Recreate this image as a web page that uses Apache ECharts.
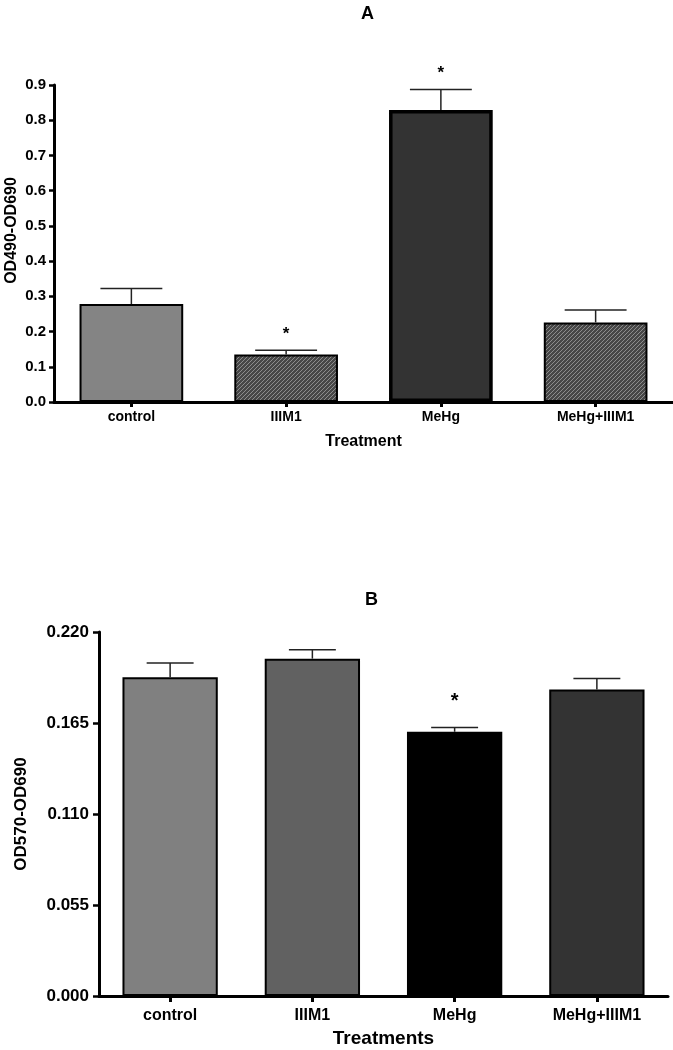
<!DOCTYPE html>
<html>
<head>
<meta charset="utf-8">
<script src="https://cdn.jsdelivr.net/npm/echarts@6/dist/echarts.min.js"></script>
<style>
html,body{margin:0;padding:0;background:#fff;}
#chart{width:673px;height:1050px;}
</style>
</head>
<body>
<div id="chart"></div>
<script>
// ---- data ----
const categories = ['control', 'IIIM1', 'MeHg', 'MeHg+IIIM1'];
const valuesA = [0.278, 0.135, 0.829, 0.226];
const errorsA = [0.044, 0.012, 0.058, 0.035];
const sigA = [false, true, true, false];
const valuesB = [0.1927, 0.2039, 0.1597, 0.1852];
const errorsB = [0.0086, 0.0053, 0.0026, 0.0067];
const sigB = [false, false, true, false];
const axisA = { min: 0, max: 0.9, interval: 0.1 };
const axisB = { min: 0, max: 0.22, interval: 0.055 };
const titleA = 'A', titleB = 'B';
const xNameA = 'Treatment', xNameB = 'Treatments';
const yNameA = 'OD490-OD690', yNameB = 'OD570-OD690';

// ---- styles ----
const FONT = 'Liberation Sans, Arial, sans-serif';
function hatch() {
  const c = document.createElement('canvas');
  c.width = 4; c.height = 4;
  const g = c.getContext('2d');
  g.fillStyle = '#474747';
  g.fillRect(0, 0, 4, 4);
  g.fillStyle = '#8c8c8c';
  for (let y = 0; y < 4; y++) {
    const x = (3 - y + 4) % 4;
    g.fillRect(x, y, 1, 1);
  }
  return { image: c, repeat: 'repeat' };
}
const hatchFill = hatch();
const fillsA = ['#848484', hatchFill, '#333333', hatchFill];
const bordersA = [2, 2, 3.5, 2];
const fillsB = ['#808080', '#616161', '#000000', '#333333'];
const bordersB = [2, 2, 2, 2];

function errRender(capFrac, starGap, starSize, sigs) {
  return function (params, api) {
    const i = api.value(0), v = api.value(1), e = api.value(2);
    const b = api.coord([i, v]);
    const t = api.coord([i, v + e]);
    const w = api.size([1, 0])[0] * capFrac;
    const ch = [
      { type: 'line', shape: { x1: b[0], y1: b[1], x2: t[0], y2: t[1] }, style: { stroke: '#222', lineWidth: 1.5 } },
      { type: 'line', shape: { x1: t[0] - w / 2, y1: t[1], x2: t[0] + w / 2, y2: t[1] }, style: { stroke: '#222', lineWidth: 1.5 } }
    ];
    if (sigs[i]) {
      ch.push({ type: 'text', style: { text: '*', x: t[0], y: t[1] - starGap, align: 'center', verticalAlign: 'middle', font: 'bold ' + starSize + 'px ' + FONT, fill: '#000' } });
    }
    return { type: 'group', children: ch };
  };
}

const chart = echarts.init(document.getElementById('chart'), null, { renderer: 'canvas' });
const axisLine = { show: true, lineStyle: { color: '#000', width: 3 } };
const option = {
  animation: false,
  backgroundColor: '#fff',
  title: [
    { text: titleA, left: 356, top: 0, textStyle: { fontFamily: FONT, fontWeight: 'bold', fontSize: 18, color: '#000' } },
    { text: titleB, left: 360, top: 586, textStyle: { fontFamily: FONT, fontWeight: 'bold', fontSize: 18, color: '#000' } }
  ],
  grid: [
    { left: 54, top: 85, width: 619, height: 317, containLabel: false, outerBoundsMode: 'none' },
    { left: 99, top: 632, width: 569, height: 364, containLabel: false, outerBoundsMode: 'none' }
  ],
  xAxis: [
    { gridIndex: 0, type: 'category', data: categories, axisLine: axisLine,
      axisTick: { show: true, alignWithLabel: true, length: 5, lineStyle: { color: '#000', width: 3 } },
      axisLabel: { color: '#000', fontFamily: FONT, fontWeight: 'bold', fontSize: 14, margin: 8 },
      name: xNameA, nameLocation: 'middle', nameGap: 32,
      nameTextStyle: { color: '#000', fontFamily: FONT, fontWeight: 'bold', fontSize: 16 } },
    { gridIndex: 1, type: 'category', data: categories, axisLine: axisLine,
      axisTick: { show: true, alignWithLabel: true, length: 6, lineStyle: { color: '#000', width: 3 } },
      axisLabel: { color: '#000', fontFamily: FONT, fontWeight: 'bold', fontSize: 16, margin: 12 },
      name: xNameB, nameLocation: 'middle', nameGap: 33,
      nameTextStyle: { color: '#000', fontFamily: FONT, fontWeight: 'bold', fontSize: 19 } }
  ],
  yAxis: [
    { gridIndex: 0, type: 'value', min: axisA.min, max: axisA.max, interval: axisA.interval,
      axisLine: axisLine, splitLine: { show: false },
      axisTick: { show: true, length: 5, lineStyle: { color: '#000', width: 2.5 } },
      axisLabel: { color: '#000', fontFamily: FONT, fontWeight: 'bold', fontSize: 15, margin: 8, formatter: v => v.toFixed(1) },
      name: yNameA, nameLocation: 'middle', nameGap: 34, nameMoveOverlap: false,
      nameTextStyle: { color: '#000', fontFamily: FONT, fontWeight: 'bold', fontSize: 16, padding: [0, 0, 0, 26] } },
    { gridIndex: 1, type: 'value', min: axisB.min, max: axisB.max, interval: axisB.interval,
      axisLine: axisLine, splitLine: { show: false },
      axisTick: { show: true, length: 6, lineStyle: { color: '#000', width: 2.5 } },
      axisLabel: { color: '#000', fontFamily: FONT, fontWeight: 'bold', fontSize: 17, margin: 10, formatter: v => v.toFixed(3) },
      name: yNameB, nameLocation: 'middle', nameGap: 69, nameMoveOverlap: false,
      nameTextStyle: { color: '#000', fontFamily: FONT, fontWeight: 'bold', fontSize: 17 } }
  ],
  series: [
    { type: 'bar', xAxisIndex: 0, yAxisIndex: 0, barWidth: '67%',
      data: valuesA.map((v, i) => ({ value: v, itemStyle: { color: fillsA[i], borderColor: '#000', borderWidth: bordersA[i] } })) },
    { type: 'custom', xAxisIndex: 0, yAxisIndex: 0, z: 5,
      renderItem: errRender(0.4, 16, 17, sigA),
      data: valuesA.map((v, i) => [i, v, errorsA[i]]) },
    { type: 'bar', xAxisIndex: 1, yAxisIndex: 1, barWidth: '67%',
      data: valuesB.map((v, i) => ({ value: v, itemStyle: { color: fillsB[i], borderColor: '#000', borderWidth: bordersB[i] } })) },
    { type: 'custom', xAxisIndex: 1, yAxisIndex: 1, z: 5,
      renderItem: errRender(0.33, 26, 20, sigB),
      data: valuesB.map((v, i) => [i, v, errorsB[i]]) }
  ]
};
chart.setOption(option);
</script>
</body>
</html>
